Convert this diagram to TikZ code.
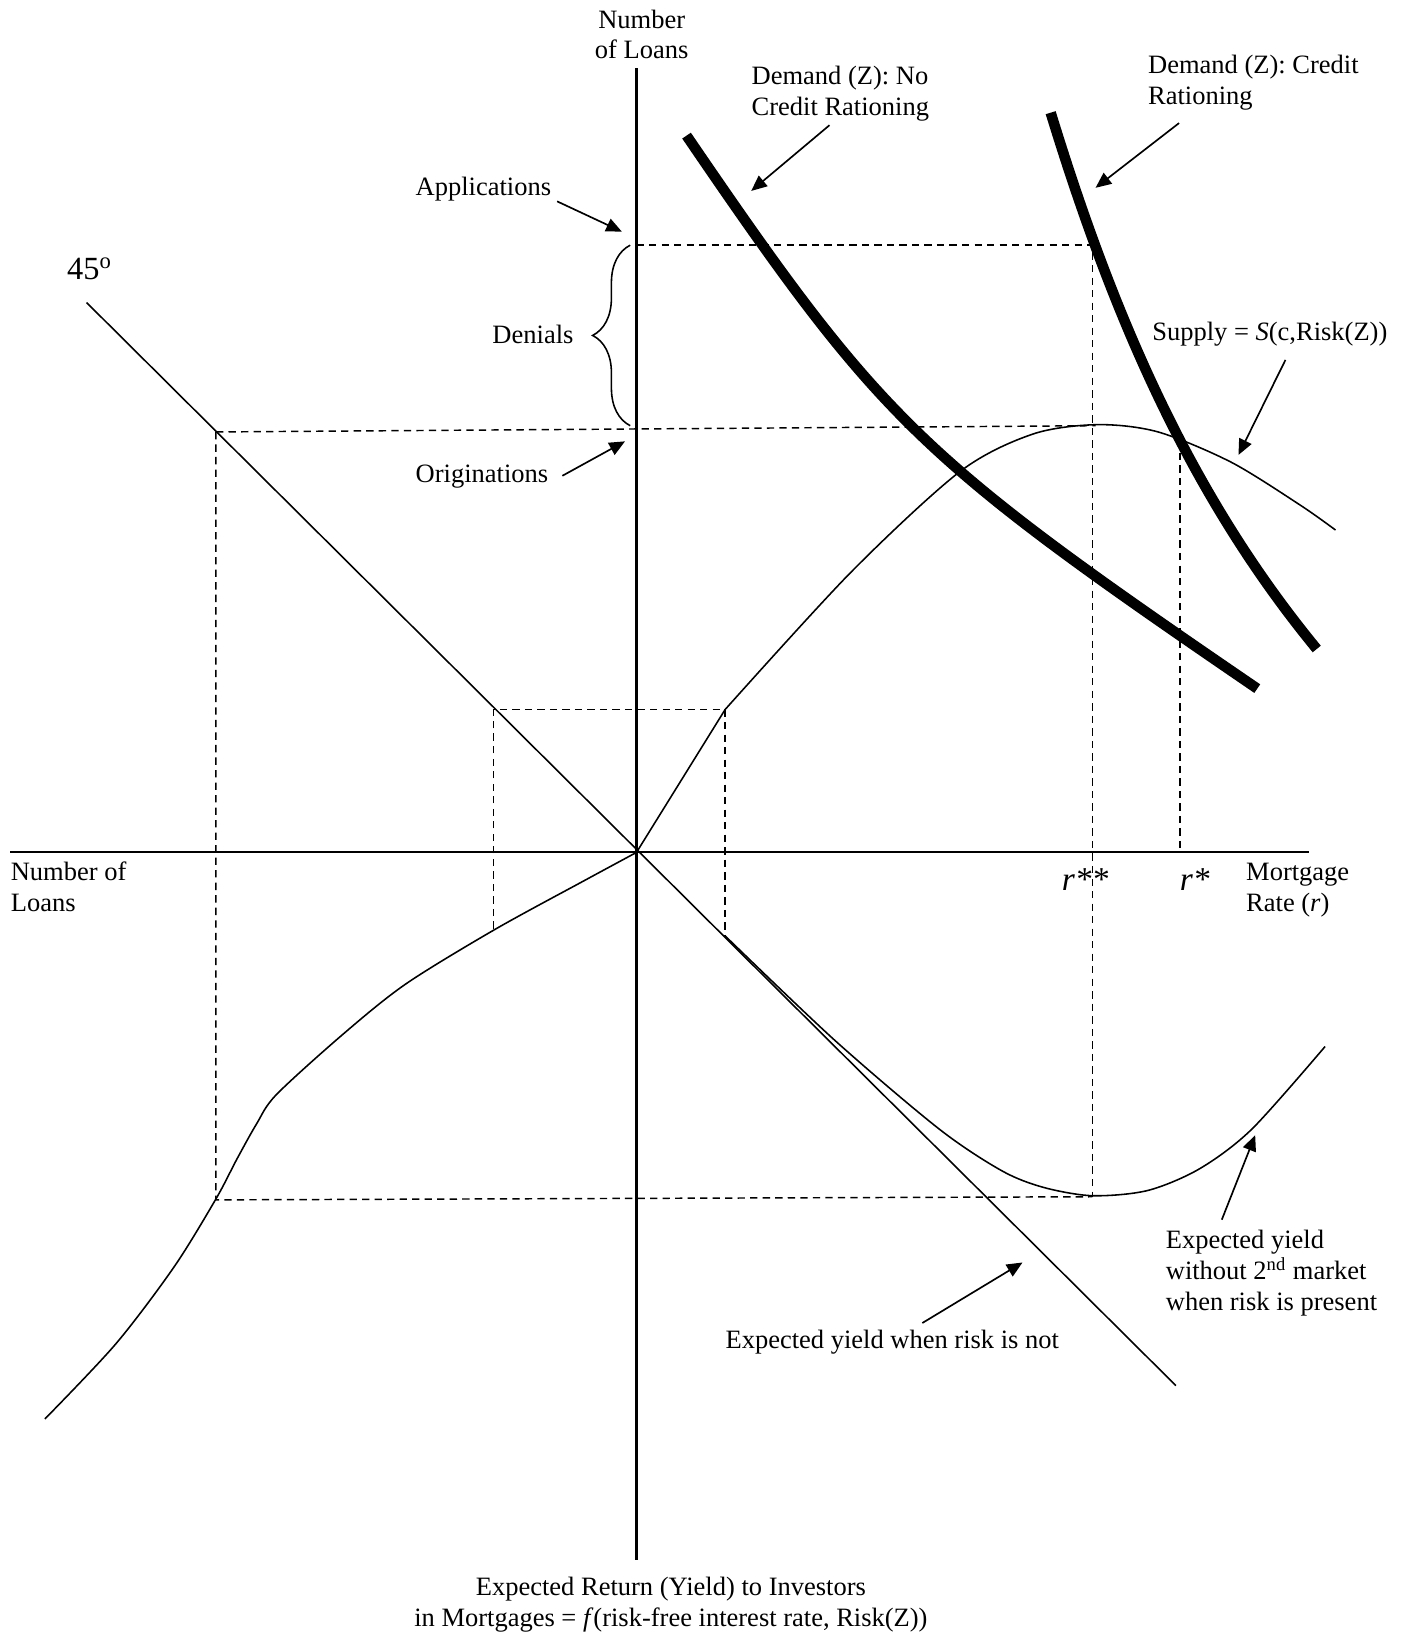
\documentclass[tikz,border=0pt]{standalone}
\usepackage{fontspec}
\setmainfont{Liberation Serif}
\usepackage{tikz}
\usetikzlibrary{arrows.meta, decorations.pathreplacing}
\tikzstyle{axis} = [line width=1pt]
\tikzstyle{curve} = [line width=0.75pt]
\tikzstyle{demand} = [line width=5pt]
\tikzstyle{guide} = [line width=0.7pt, dash pattern=on 3.5pt off 2.5pt]
\tikzstyle{pointer} = [line width=0.8pt, -{Triangle[length=7.5pt,width=6.5pt]}]
\tikzstyle{lbl} = [inner sep=0pt, font=\fontsize{12.7}{14.75}\selectfont]
\tikzstyle{rate} = [inner sep=0pt, font=\fontsize{16}{18}\selectfont\itshape]

\begin{document}
\begin{tikzpicture}[x=0.5pt, y=-0.5pt]
    \useasboundingbox (0,0) rectangle (1344,1568);
    % axes
    \coordinate (O) at (610,817);
    \coordinate (yTop) at (610,65);
    \coordinate (yBot) at (610,1495);
    \coordinate (xLeft) at (10,817);
    \coordinate (xRight) at (1255,817);
    \draw[axis] (yBot) -- (yTop);
    \draw[axis] (xLeft) -- (xRight);
    % 45 degree line
    \coordinate (diagA) at (83,290);
    \coordinate (diagB) at (1127,1328);
    \draw[curve] (diagA) -- (diagB);

    % guide points
    \coordinate (appl) at (610,235);
    \coordinate (applR) at (1047,235);
    \coordinate (origL) at (207,414);
    \coordinate (peak) at (1050,408);
    \coordinate (yieldL) at (207,1150);
    \coordinate (yieldMin) at (1047,1147);
    \coordinate (rStar) at (1131,422);
    \coordinate (rStarAxis) at (1131,817);
    \coordinate (kink) at (695,680);
    \coordinate (kinkL) at (473,680);
    \coordinate (kinkLB) at (473,890);
    \coordinate (kinkRB) at (695,897);

    \draw[guide] (appl) -- (applR) -- (yieldMin);
    \draw[guide] (origL) -- (peak);
    \draw[guide] (origL) -- (yieldL) -- (yieldMin);
    \draw[guide] (rStar) -- (rStarAxis);
    \draw[guide] (kinkLB) -- (kinkL) -- (kink) -- (kinkRB);

    % supply
    \draw[curve] (O) -- (kink);
    \draw[curve] plot[smooth] coordinates {(695,680) (815,549) (920,452) (990,416) (1052,407) (1110,414) (1180,443) (1246,484) (1280,508)};
    % yield curves
    \draw[curve] plot[smooth] coordinates {(610,817) (560,844) (474,891) (389,943) (329,991) (265,1049) (246,1077) (227,1111) (207,1149) (167,1214) (111,1288) (43,1360)};
    \draw[curve] plot[smooth] coordinates {(695,897) (800,997) (900,1082) (960,1122) (1000,1138) (1047,1146) (1100,1141) (1150,1120) (1200,1082) (1270,1003)};
    % demand
    \coordinate (demNoA) at (658,130);
    \coordinate (demNoB) at (1205,660);
    \coordinate (demCrA) at (1007,108);
    \coordinate (demCrB) at (1262,622);
    \draw[demand] (demNoA) .. controls (845,404) and (880,438) .. (demNoB);
    \draw[demand] (demCrA) .. controls (1068,307) and (1142,476) .. (demCrB);

    % brace
    \coordinate (braceTop) at (604,235);
    \coordinate (braceBot) at (604,408);
    \draw[curve, decorate, decoration={brace, amplitude=18pt}] (braceBot) -- (braceTop);

    % labels
    \node[lbl, align=center] (yLabel) at (615,33) {Number\\of Loans};
    \node[lbl, align=left, anchor=west] (demNo) at (720,90) {Demand (Z): No\\Credit Rationing};
    \node[lbl, align=left, anchor=west] (demCr) at (1100,79) {Demand (Z): Credit\\Rationing};
    \node[lbl, anchor=base west] (applText) at (398,187) {Applications};
    \node[lbl, anchor=base east] (denText) at (550,329) {Denials};
    \node[lbl, anchor=west, font=\fontsize{15.5}{17}\selectfont] (degText) at (64,258) {45\textsuperscript{o}};
    \node[lbl, anchor=base west] (origText) at (398,462) {Originations};
    \node[lbl, anchor=west] (supText) at (1104,320) {Supply = \textit{S}(c,Risk(Z))};
    \node[lbl, align=left, anchor=west] (xLabel) at (10,850) {Number of\\Loans};
    \node[rate] (rss) at (1040,843) {r**};
    \node[rate] (rs) at (1145,843) {r*};
    \node[lbl, align=left, anchor=west] (rateText) at (1194,853) {Mortgage\\Rate (\textit{r})};
    \node[lbl, align=left, anchor=west] (secText) at (1117,1220) {Expected yield\\without 2\textsuperscript{nd} market\\when risk is present};
    \node[lbl, anchor=west] (noRiskText) at (695,1286) {Expected yield when risk is not};
    \node[lbl, align=center] (retText) at (643,1538) {Expected Return (Yield) to Investors\\in Mortgages = \textit{f}(risk-free interest rate, Risk(Z))};

    % pointers
    \coordinate (demNoS) at (795,120);  \coordinate (demNoE) at (720,183);
    \coordinate (demCrS) at (1130,118); \coordinate (demCrE) at (1050,180);
    \coordinate (applS) at (534,193);   \coordinate (applE) at (596,222);
    \coordinate (origS) at (539,456);   \coordinate (origE) at (599,423);
    \coordinate (supS) at (1232,345);   \coordinate (supE) at (1187,436);
    \coordinate (noRiskS) at (884,1268); \coordinate (noRiskE) at (980,1210);
    \coordinate (secS) at (1171,1169);  \coordinate (secE) at (1203,1088);
    \draw[pointer] (demNoS) -- (demNoE);
    \draw[pointer] (demCrS) -- (demCrE);
    \draw[pointer] (applS) -- (applE);
    \draw[pointer] (origS) -- (origE);
    \draw[pointer] (supS) -- (supE);
    \draw[pointer] (noRiskS) -- (noRiskE);
    \draw[pointer] (secS) -- (secE);
\end{tikzpicture}
\end{document}
